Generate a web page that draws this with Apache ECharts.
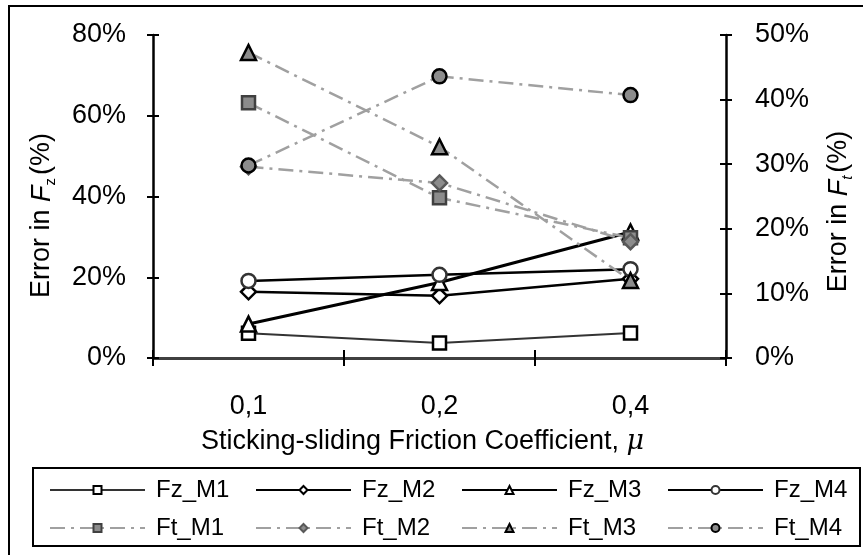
<!DOCTYPE html>
<html>
<head>
<meta charset="utf-8">
<script src="https://cdn.jsdelivr.net/npm/echarts@6/dist/echarts.min.js"></script>
<style>
  html, body { margin: 0; padding: 0; background: #fff; }
  #chart { width: 863px; height: 555px; }
</style>
</head>
<body>
<div id="chart"></div>
<script>
// Friction coefficient categories
const categories = ['0,1', '0,2', '0,4'];

// Error in Fz (%), left axis
const fzM1 = [6.1, 3.7, 6.2];
const fzM2 = [16.4, 15.4, 19.6];
const fzM3 = [8.4, 18.7, 31.2];
const fzM4 = [19.1, 20.6, 22.0];

// Error in Ft (%), right axis
const ftM1 = [39.5, 24.8, 18.6];
const ftM2 = [29.6, 27.1, 18.0];
const ftM3 = [47.3, 32.7, 12.0];
const ftM4 = [29.8, 43.6, 40.7];

// Axis ranges
const leftAxis = { min: 0, max: 80, step: 20 };
const rightAxis = { min: 0, max: 50, step: 10 };

// Legend rows
const fzNames = ['Fz_M1', 'Fz_M2', 'Fz_M3', 'Fz_M4'];
const ftNames = ['Ft_M1', 'Ft_M2', 'Ft_M3', 'Ft_M4'];

const FONT = 'Liberation Sans, Arial, sans-serif';
const GREY_FILL = '#8c8c8c';
const DASH_DOT = [15, 6, 3, 6];

function fzSeries(name, data, symbol, size, lineColor, lineWidth, borderColor) {
  return {
    name, type: 'line', data, yAxisIndex: 0,
    symbol, symbolSize: size, showAllSymbol: true,
    lineStyle: { color: lineColor, width: lineWidth, type: 'solid' },
    itemStyle: { color: '#fff', borderColor: borderColor, borderWidth: 2.5 },
    emphasis: { disabled: true },
    animation: false
  };
}

function ftSeries(name, data, symbol, size, borderColor) {
  return {
    name, type: 'line', data, yAxisIndex: 1,
    symbol, symbolSize: size, showAllSymbol: true,
    lineStyle: { color: '#a0a0a0', width: 2.5, type: DASH_DOT },
    itemStyle: { color: GREY_FILL, borderColor: borderColor, borderWidth: 2.5 },
    emphasis: { disabled: true },
    animation: false
  };
}

function legendRow(names, top) {
  return {
    data: names,
    left: 49, top: top,
    orient: 'horizontal',
    padding: 0,
    itemWidth: 95, itemHeight: 10, itemGap: 19,
    textStyle: { color: '#000', fontSize: 24, fontFamily: FONT, width: 80, height: 26, lineHeight: 26, padding: [0, 0, 0, 6] }
  };
}

const tickLabel = { color: '#000', fontSize: 27, fontFamily: FONT };
const axisLineStyle = { color: '#000', width: 2.5 };

const chart = echarts.init(document.getElementById('chart'), null, { renderer: 'canvas' });

chart.setOption({
  backgroundColor: '#fff',
  animation: false,
  textStyle: { fontFamily: FONT },
  grid: { left: 153, right: 137, top: 35, bottom: 197, outerBoundsMode: 'none', containLabel: false },
  graphic: [
    {
      type: 'rect', silent: true, z: 100,
      shape: { x: 9, y: 6, width: 900, height: 600 },
      style: { fill: 'none', stroke: '#000', lineWidth: 2 }
    },
    {
      type: 'rect', silent: true, z: 100,
      shape: { x: 33, y: 468, width: 827, height: 78 },
      style: { fill: 'none', stroke: '#000', lineWidth: 2 }
    }
  ],
  legend: [legendRow(fzNames, 477), legendRow(ftNames, 515)],
  xAxis: [
    {
      type: 'category', data: categories, position: 'bottom', boundaryGap: true,
      axisLine: { show: true, lineStyle: axisLineStyle },
      axisTick: { show: true, inside: false, length: 8, lineStyle: { color: '#000', width: 2 } },
      axisLabel: Object.assign({ margin: 35 }, tickLabel),
      splitLine: { show: false },
      name: '{a|Sticking-sliding Friction Coefficient, }{i|μ}',
      nameLocation: 'middle', nameGap: 70,
      nameTextStyle: {
        padding: [0, 34, 0, 0],
        rich: {
          a: { fontSize: 27, fontFamily: FONT, color: '#000' },
          i: { fontSize: 27, fontFamily: 'DejaVu Serif, serif', fontStyle: 'italic', color: '#000' }
        }
      }
    },
    {
      type: 'category', data: categories, position: 'bottom', boundaryGap: true,
      axisLine: { show: false },
      axisTick: { show: true, inside: true, length: 8, lineStyle: { color: '#000', width: 2 } },
      axisLabel: { show: false }, splitLine: { show: false }
    },
    {
      type: 'category', data: categories, position: 'top', boundaryGap: true,
      axisLine: { show: true, lineStyle: { color: '#404040', width: 2 } },
      axisTick: { show: false }, axisLabel: { show: false }, splitLine: { show: false }
    }
  ],
  yAxis: [
    {
      type: 'value', position: 'left',
      min: leftAxis.min, max: leftAxis.max, interval: leftAxis.step,
      axisLine: { show: true, lineStyle: axisLineStyle },
      axisTick: { show: true, inside: false, length: 6, lineStyle: { color: '#000', width: 2 } },
      axisLabel: Object.assign({ margin: 27, formatter: '{value}%' }, tickLabel),
      splitLine: { show: false },
      name: '{a|Error in }{i|F}{s|z}{a|(%)}',
      nameLocation: 'middle', nameGap: 95, nameRotate: 90,
      nameTextStyle: {
        padding: [0, 38, 0, 0],
        rich: {
          a: { fontSize: 27, fontFamily: FONT, color: '#000', lineHeight: 32 },
          i: { fontSize: 27, fontFamily: FONT, fontStyle: 'italic', color: '#000', lineHeight: 32 },
          s: { fontSize: 15, fontFamily: FONT, color: '#000', lineHeight: 14, verticalAlign: 'bottom', padding: [0, 3, 0, 0] }
        }
      }
    },
    {
      type: 'value', position: 'right',
      min: rightAxis.min, max: rightAxis.max, interval: rightAxis.step,
      axisLine: { show: true, lineStyle: axisLineStyle },
      axisTick: { show: true, inside: false, length: 6, lineStyle: { color: '#000', width: 2 } },
      axisLabel: Object.assign({ margin: 29, formatter: '{value}%' }, tickLabel),
      splitLine: { show: false },
      name: '{a|Error in }{i|F}{t|t}{a|(%)}',
      nameLocation: 'middle', nameGap: 97, nameRotate: 90,
      nameTextStyle: {
        padding: [0, 30, 0, 0],
        rich: {
          a: { fontSize: 27, fontFamily: FONT, color: '#000', lineHeight: 32 },
          i: { fontSize: 27, fontFamily: FONT, fontStyle: 'italic', color: '#000', lineHeight: 32 },
          t: { fontSize: 15, fontFamily: FONT, fontStyle: 'italic', color: '#000', lineHeight: 14, verticalAlign: 'bottom', padding: [0, 3, 0, 0] }
        }
      }
    },
    {
      type: 'value', position: 'left',
      min: leftAxis.min, max: leftAxis.max, interval: leftAxis.step,
      axisLine: { show: false },
      axisTick: { show: true, inside: true, length: 6, lineStyle: { color: '#000', width: 2 } },
      axisLabel: { show: false }, splitLine: { show: false }
    },
    {
      type: 'value', position: 'right',
      min: rightAxis.min, max: rightAxis.max, interval: rightAxis.step,
      axisLine: { show: false },
      axisTick: { show: true, inside: true, length: 6, lineStyle: { color: '#000', width: 2 } },
      axisLabel: { show: false }, splitLine: { show: false }
    }
  ],
  series: [
    fzSeries('Fz_M1', fzM1, 'rect', 13, '#333', 2, '#000'),
    fzSeries('Fz_M2', fzM2, 'diamond', 15, '#000', 2.5, '#000'),
    fzSeries('Fz_M3', fzM3, 'triangle', 15, '#000', 3, '#000'),
    fzSeries('Fz_M4', fzM4, 'circle', 14, '#000', 2.5, '#333'),
    ftSeries('Ft_M1', ftM1, 'rect', 13, '#404040'),
    ftSeries('Ft_M2', ftM2, 'diamond', 15, '#595959'),
    ftSeries('Ft_M3', ftM3, 'triangle', 15, '#000'),
    ftSeries('Ft_M4', ftM4, 'circle', 14, '#000')
  ]
});
</script>
</body>
</html>
